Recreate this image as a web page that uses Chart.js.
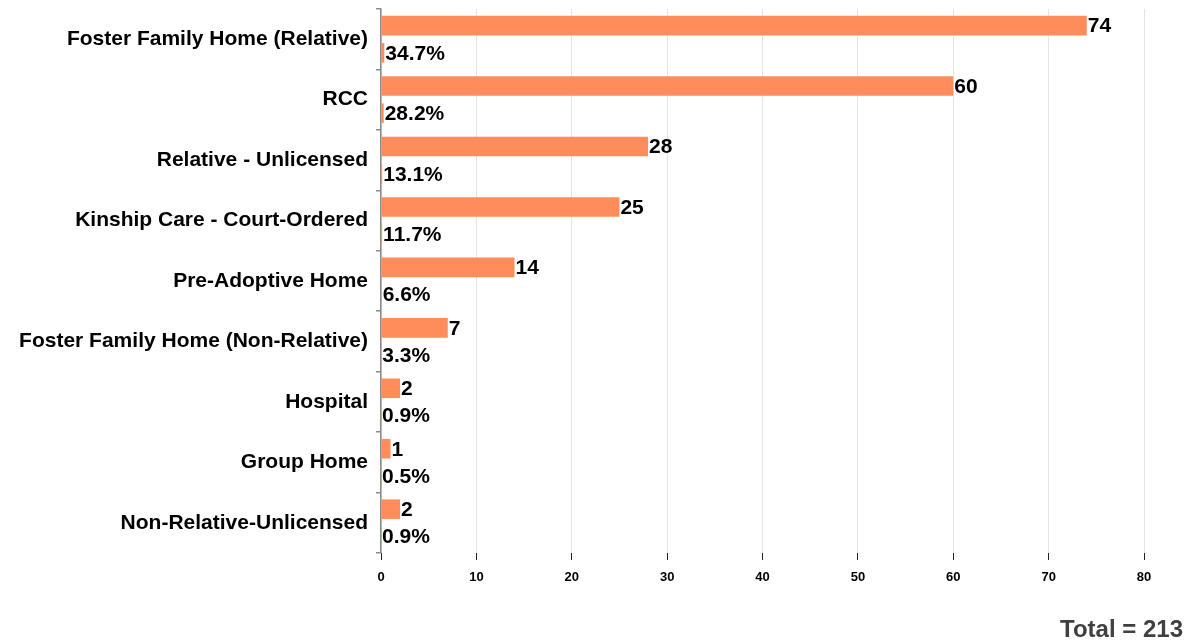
<!DOCTYPE html>
<html>
<head>
<meta charset="utf-8">
<script src="https://cdn.jsdelivr.net/npm/chart.js@4/dist/chart.umd.min.js"></script>
<style>
html,body{margin:0;padding:0;background:#fff;}
#wrap{width:1193px;height:640px;position:relative;}
</style>
</head>
<body>
<div id="wrap"><canvas id="c" width="1193" height="640"></canvas></div>
<script>
const categories = [
  "Foster Family Home (Relative)",
  "RCC",
  "Relative - Unlicensed",
  "Kinship Care - Court-Ordered",
  "Pre-Adoptive Home",
  "Foster Family Home (Non-Relative)",
  "Hospital",
  "Group Home",
  "Non-Relative-Unlicensed"
];
const counts = [74, 60, 28, 25, 14, 7, 2, 1, 2];
const percents = [34.7, 28.2, 13.1, 11.7, 6.6, 3.3, 0.9, 0.5, 0.9];
const xTicks = [0, 10, 20, 30, 40, 50, 60, 70, 80];
const totalLabel = "Total = 213";

const FONT = "'Liberation Sans', Arial, sans-serif";
const BAR = "#FF8C5A";

const labelPlugin = {
  id: 'barLabels',
  afterDatasetsDraw(chart) {
    const ctx = chart.ctx;
    ctx.save();
    ctx.font = "bold 21px " + FONT;
    ctx.fillStyle = "#000";
    ctx.textBaseline = "middle";
    ctx.textAlign = "left";
    chart.data.datasets.forEach((ds, di) => {
      const meta = chart.getDatasetMeta(di);
      meta.data.forEach((el, i) => {
        const txt = di === 0 ? String(counts[i]) : percents[i].toFixed(1) + "%";
        ctx.fillText(txt, el.x + 1, el.y + 1);
      });
    });
    ctx.font = "bold 24px " + FONT;
    ctx.fillStyle = "#404040";
    ctx.textAlign = "right";
    ctx.textBaseline = "alphabetic";
    ctx.fillText(totalLabel, 1183, 637);
    ctx.restore();
  }
};

new Chart(document.getElementById('c'), {
  type: 'bar',
  data: {
    labels: categories,
    datasets: [
      { label: 'Count', data: counts, backgroundColor: BAR, categoryPercentage: 0.9, barPercentage: 0.72 },
      { label: 'Percent', data: percents.map(p => p / 100), backgroundColor: BAR, categoryPercentage: 0.9, barPercentage: 0.72 }
    ]
  },
  options: {
    indexAxis: 'y',
    responsive: false,
    animation: false,
    layout: { padding: { left: 0, right: 49, top: 9, bottom: 42 } },
    plugins: { legend: { display: false }, tooltip: { enabled: false } },
    scales: {
      x: {
        min: 0, max: 80,
        afterBuildTicks(s) { s.ticks = xTicks.map(v => ({ value: v })); },
        afterFit(s) { s.height = 45; },
        border: { display: false },
        grid: { color: '#e3e3e3', lineWidth: 1, tickColor: '#222', tickLength: 7, drawTicks: true },
        ticks: { font: { family: FONT, size: 13, weight: 'bold' }, color: '#000', padding: 10, maxRotation: 0 }
      },
      y: {
        afterFit(s) { s.width = 381; s.paddingTop = 0; s.paddingBottom = 0; },
        offset: true,
        border: { display: true, color: '#8a8a8a', width: 1.5 },
        grid: { offset: true, drawOnChartArea: false, tickColor: '#8a8a8a', tickLength: 5, lineWidth: 1.5 },
        ticks: { font: { family: FONT, size: 21, weight: 'bold' }, color: '#000', padding: 8, crossAlign: 'near' }
      }
    }
  },
  plugins: [labelPlugin]
});
</script>
</body>
</html>
